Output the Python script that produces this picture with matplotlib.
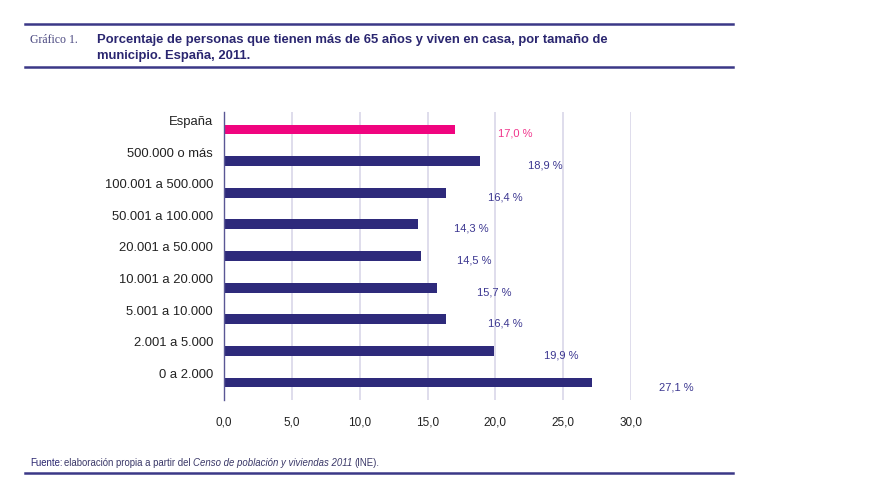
import matplotlib
matplotlib.use("Agg")
import matplotlib.pyplot as plt
from matplotlib.lines import Line2D
from matplotlib.ticker import FuncFormatter
from matplotlib.transforms import ScaledTranslation
from matplotlib import font_manager

# ---- data ----
categories = ["España", "500.000 o más", "100.001 a 500.000", "50.001 a 100.000",
              "20.001 a 50.000", "10.001 a 20.000", "5.001 a 10.000",
              "2.001 a 5.000", "0 a 2.000"]
values = [17.0, 18.9, 16.4, 14.3, 14.5, 15.7, 16.4, 19.9, 27.1]
xticks = [0, 5, 10, 15, 20, 25, 30]

NAVY = "#2e2a7b"
PINK = "#f0047f"
LABEL_NAVY = "#3b3690"
LABEL_PINK = "#f0358c"

names = {f.name for f in font_manager.fontManager.ttflist}
narrow = "Liberation Sans Narrow" if "Liberation Sans Narrow" in names else "Liberation Sans"
plt.rcParams['font.family'] = ['Liberation Sans', 'DejaVu Sans']

fig = plt.figure(figsize=(8.71, 4.87), dpi=100)
ax = fig.add_axes([224 / 871, 1 - 400 / 487, (631 - 224) / 871, (400 - 112) / 487])

ypos = list(range(len(categories)))
colors = [PINK] + [NAVY] * (len(categories) - 1)
ax.barh(ypos, values, height=0.31, color=colors, zorder=3)

ax.set_xlim(0, 30)
ax.set_ylim(len(categories) - 0.45, -0.55)
ax.set_xticks(xticks)
ax.xaxis.set_major_formatter(FuncFormatter(lambda v, p: f"{v:.1f}".replace(".", ",")))
ax.set_yticks(ypos)
ax.set_yticklabels(categories)
ax.tick_params(axis='both', length=0, colors="#222222")
ax.tick_params(axis='x', pad=12, labelsize=8.5)
ax.tick_params(axis='y', pad=8, labelsize=9.4)
for lab in ax.get_yticklabels():
    lab.set_transform(lab.get_transform() + ScaledTranslation(0, 9 / 100, fig.dpi_scale_trans))

for s in ["top", "right", "bottom"]:
    ax.spines[s].set_visible(False)
ax.spines["left"].set_color("#5a5795")
ax.spines["left"].set_linewidth(1.0)
ax.spines["left"].set_zorder(4)
ax.grid(axis='x', color="#dcdaea", linewidth=1.3, zorder=0)
ax.set_axisbelow(True)

for i, v in enumerate(values):
    c = LABEL_PINK if i == 0 else LABEL_NAVY
    ax.annotate(f"{v:.1f} %".replace(".", ","), xy=(v * 1.18 + 0.1, i), xytext=(0, -3.3),
                textcoords="offset points", ha="left", va="center",
                fontsize=8, color=c, annotation_clip=False)

# ---- header / footer ----
RULE = "#3b3887"
for yy in (24, 67, 473):
    fig.add_artist(Line2D([25 / 871, 733 / 871], [1 - yy / 487] * 2, color=RULE, lw=1.8))

fig.text(30 / 871, 1 - 40 / 487, "Gráfico 1.", fontsize=8.5, family=["Liberation Serif", "DejaVu Serif"],
         color="#4a4880", va="center", ha="left")
fig.text(97 / 871, 1 - 40 / 487,
         "Porcentaje de personas que tienen más de 65 años y viven en casa, por tamaño de",
         fontsize=9.4, fontweight="bold", color="#2a2670", va="center", ha="left",
         family=[narrow, "DejaVu Sans"])
fig.text(97 / 871, 1 - 56 / 487, "municipio. España, 2011.",
         fontsize=9.4, fontweight="bold", color="#2a2670", va="center", ha="left",
         family=[narrow, "DejaVu Sans"])

fy = 1 - 463 / 487
fs = 6.9
t1 = fig.text(30 / 871, fy, "Fuente:", fontsize=fs, color="#2a2670", va="center", ha="left",
              family=[narrow, "DejaVu Sans"])
fig.canvas.draw()
r = fig.canvas.get_renderer()
bb = t1.get_window_extent(r)
x = bb.x1 / fig.bbox.width + 2 / 871
t2 = fig.text(x, fy, "elaboración propia a partir del", fontsize=fs, color="#3a3868",
              va="center", ha="left", family=[narrow, "DejaVu Sans"])
bb = t2.get_window_extent(r)
x = bb.x1 / fig.bbox.width + 2 / 871
t3 = fig.text(x, fy, "Censo de población y viviendas 2011", fontsize=fs, color="#3a3868",
              style="italic", va="center", ha="left", family=[narrow, "DejaVu Sans"])
bb = t3.get_window_extent(r)
x = bb.x1 / fig.bbox.width + 2 / 871
fig.text(x, fy, "(INE).", fontsize=fs, color="#3a3868", va="center", ha="left",
         family=[narrow, "DejaVu Sans"])

fig.savefig("out.png", dpi=100)
